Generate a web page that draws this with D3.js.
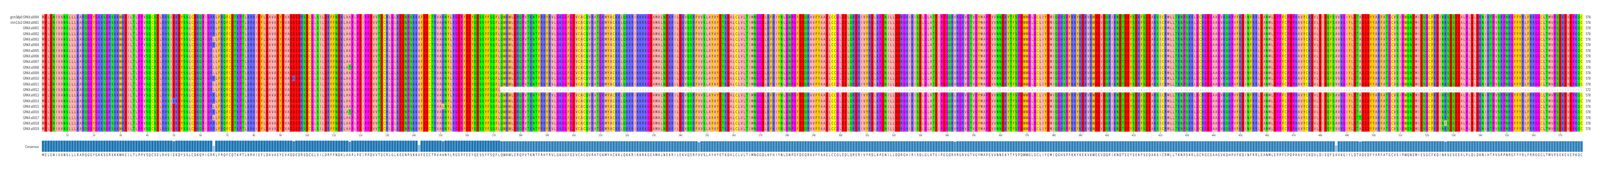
<!DOCTYPE html>
<html>
<head>
  <meta charset="utf-8" />
  <script src="https://cdn.jsdelivr.net/npm/d3@7"></script>
  <style>
    html, body { margin: 0; padding: 0; background: #fff; overflow: hidden; }
    svg { display: block; }
    text { font-family: "DejaVu Sans", sans-serif; }
  </style>
</head>
<body>
  <div id="chart"></div>
  <script>
    // sequence names, top to bottom
    var names = ["grch38p0:GRK4:a0004", "chm13v2:GRK4:a0001",
      "GRK4:a0001", "GRK4:a0002", "GRK4:a0003", "GRK4:a0004", "GRK4:a0005",
      "GRK4:a0006", "GRK4:a0007", "GRK4:a0008", "GRK4:a0009", "GRK4:a0010",
      "GRK4:a0011", "GRK4:a0012", "GRK4:a0013", "GRK4:a0014", "GRK4:a0015",
      "GRK4:a0016", "GRK4:a0017", "GRK4:a0018", "GRK4:a0019"];

    // ungapped length of each sequence (right hand numbers)
    var seqLengths = [578, 578, 578, 578, 578, 578, 578, 578, 578, 578, 578,
      578, 578, 172, 578, 578, 578, 578, 578, 578, 578];

    // reference residues, 578 columns
    var baseSeq =
      "MELENIVANSLLLKARQGGYGKKSGRSKKWKEILTLPPVSQCSELRHSIEKDYSSLCDKQ" +
      "PIGRRLFRQFCDTKPTLKRHIEFLDAVAEYEVADDEDRSDCGLSILDRFFNDKLAAPLPE" +
      "IPPDVVTECRLGLKEENPSKKAFEECTRVAHNYLRGEPFEEYQESSYFSQFLQWKWLERQ" +
      "PVTKNTFRHYRVLGKGGFGEVCACQVRATGKMYACKKLQKKRIKKRKGEAMALNEKRILE" +
      "KVQSRFVVSLAYAYETKDALCLVLTIMNGGDLKFHIYNLGNPGFDEQRAVFYAAELCCGL" +
      "EDLQRERIVYRDLKPENILLDDRGHIRISDLGLATEIPEGQRVRGRVGTVGYMAPEVVNN" +
      "EKYTFSPDWWGLGCLIYEMIQGHSPFKKYKEKVKWEEVDQRIKNDTEEYSEKFSEDAKSI" +
      "CRMLLTKNPSKRLGCRGEGAAGVKQHPVFKDINFRRLEANMLEPPFCPDPHAVYCKDVLD" +
      "IEQFSVVKGIYLDTADEDFYARFATGCVSIPWQNEMIESGCFKDINKSESEEALPLDLDK" +
      "NIHTPVSRPNRGFFYRLFRRGGCLTMVPSEKEVEPKQC";

    // differences from the reference: [column (1-based), residue, rows]
    var variants = [
      [50, "K", [15]],
      [65, "L", [4, 6, 7, 8, 9, 10, 12, 13, 16, 18]],
      [95, "H", [11]],
      [116, "T", [9, 17]],
      [142, "V", [3, 4, 6, 8, 9, 10, 13, 14, 15, 16, 17, 18, 20]],
      [151, "L", [16]],
      [247, "I", [8, 10]],
      [343, "L", [14]],
      [486, "A", [1, 2, 3, 6, 7, 9, 10, 14, 15, 16, 17, 19]],
      [495, "T", [18]],
      [527, "I", [19]]
    ];

    var zappo = {
      A: "#ffafaf", I: "#ffafaf", L: "#ffafaf", M: "#ffafaf", V: "#ffafaf",
      D: "#ff0000", E: "#ff0000",
      N: "#00ff00", Q: "#00ff00", S: "#00ff00", T: "#00ff00",
      K: "#6464ff", R: "#6464ff", H: "#6464ff",
      G: "#ff00ff", P: "#ff00ff",
      F: "#ffc800", W: "#ffc800", Y: "#ffc800",
      C: "#ffff00", "-": "#ffffff"
    };

    // build alignment
    var nCol = baseSeq.length;
    var rows = names.map(function (n, i) {
      var s = baseSeq.split("");
      for (var c = seqLengths[i]; c < nCol; c++) s[c] = "-";
      return s;
    });
    variants.forEach(function (v) {
      v[2].forEach(function (r) { if (rows[r][v[0] - 1] != "-") rows[r][v[0] - 1] = v[1]; });
    });

    var cells = [];
    rows.forEach(function (s, r) {
      s.forEach(function (ch, c) { cells.push({ r: r, c: c, ch: ch }); });
    });

    var consensus = d3.range(nCol).map(function (c) {
      var col = rows.map(function (s) { return s[c]; }).filter(function (x) { return x != "-"; });
      var counts = d3.rollup(col, function (v) { return v.length; }, function (d) { return d; });
      var best = d3.greatest(Array.from(counts), function (d) { return d[1]; });
      return { c: c, ch: best[0], frac: best[1] / rows.length };
    });

    var W = 6049, H = 438;
    var svg = d3.select("#chart").append("svg")
      .attr("viewBox", "0 0 " + W + " " + H)
      .attr("preserveAspectRatio", "none")
      .style("width", "100vw").style("height", "100vh");

    var x = d3.scaleBand().domain(d3.range(nCol)).range([158, 5984]).padding(0);
    var y = d3.scaleBand().domain(d3.range(rows.length)).range([36, 337]).padding(0);
    var cw = x.bandwidth(), rh = y.bandwidth();

    var g = svg.append("g");
    g.selectAll("rect.cell").data(cells).enter().append("rect")
      .attr("x", function (d) { return x(d.c); })
      .attr("y", function (d) { return y(d.r); })
      .attr("width", cw + 0.3)
      .attr("height", rh + 0.3)
      .attr("fill", function (d) { return zappo[d.ch] || "#fff"; });

    g.selectAll("text.res").data(cells).enter().append("text")
      .attr("x", function (d) { return x(d.c) + cw / 2; })
      .attr("y", function (d) { return y(d.r) + rh / 2; })
      .attr("dy", "0.36em")
      .attr("text-anchor", "middle")
      .attr("font-size", "9.6px")
      .attr("fill", "#222")
      .text(function (d) { return d.ch; });

    // names and lengths
    svg.selectAll("text.name").data(names).enter().append("text")
      .attr("x", 147).attr("y", function (d, i) { return y(i) + rh / 2; })
      .attr("dy", "0.36em").attr("text-anchor", "end")
      .attr("font-size", "9.6px").attr("fill", "#333")
      .text(function (d) { return d; });
    svg.selectAll("text.len").data(seqLengths).enter().append("text")
      .attr("x", 5995).attr("y", function (d, i) { return y(i) + rh / 2; })
      .attr("dy", "0.36em").attr("font-size", "9.6px").attr("fill", "#333")
      .text(function (d) { return d; });

    // position axis
    var ticks = d3.range(10, nCol + 1, 10);
    var axis = d3.axisBottom(d3.scaleLinear().domain([0.5, nCol + 0.5]).range([158, 5984]))
      .tickValues(ticks).tickSize(4).tickPadding(2).tickFormat(d3.format("d"));
    var ax = svg.append("g").attr("transform", "translate(0,338)").call(axis);
    ax.select(".domain").remove();
    ax.selectAll("line").attr("stroke", "#444").attr("stroke-width", 0.8);
    ax.selectAll("text").attr("font-size", "7.5px").attr("fill", "#333")
      .attr("font-family", "DejaVu Sans");

    // consensus bars
    var hy = d3.scaleLinear().domain([0, 1]).range([389, 360]);
    svg.selectAll("rect.cons").data(consensus).enter().append("rect")
      .attr("x", function (d) { return x(d.c); })
      .attr("y", function (d) { return hy(d.frac); })
      .attr("width", cw)
      .attr("height", function (d) { return 389 - hy(d.frac); })
      .attr("fill", "#1f77b4")
      .attr("fill-opacity", function (d) { return 0.35 + 0.65 * Math.pow(d.frac, 3); })
      .attr("stroke", "#dbe8f3").attr("stroke-width", 0.8);

    svg.selectAll("text.ccons").data(consensus).enter().append("text")
      .attr("x", function (d) { return x(d.c) + cw / 2; })
      .attr("y", 397).attr("dy", "0.36em").attr("text-anchor", "middle")
      .attr("font-size", "9.6px").attr("fill", "#222")
      .text(function (d) { return d.ch; });

    svg.append("text").attr("x", 147).attr("y", 376).attr("dy", "0.36em")
      .attr("text-anchor", "end").attr("font-size", "9.6px").attr("fill", "#333")
      .text("Consensus");
  </script>
</body>
</html>
